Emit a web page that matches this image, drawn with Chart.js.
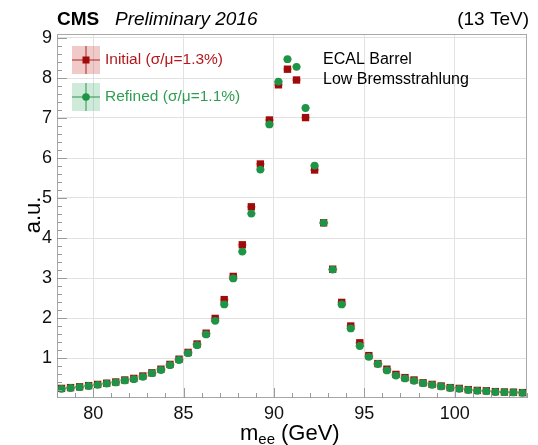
<!DOCTYPE html>
<html>
<head>
<meta charset="utf-8">
<script src="https://cdn.jsdelivr.net/npm/chart.js@4.4.0/dist/chart.umd.min.js"></script>
<style>
    html, body { margin: 0; padding: 0; background: #fff; }
    #wrap { width: 538px; height: 445px; }
</style>
</head>
<body>
<div id="wrap"><canvas id="zeeChart" width="538" height="445"></canvas></div>
<script>
// Di-electron invariant mass, ECAL barrel, low bremsstrahlung category
const massBins = [
    78.25, 78.75, 79.25, 79.75, 80.25, 80.75, 81.25, 81.75, 82.25, 82.75,
    83.25, 83.75, 84.25, 84.75, 85.25, 85.75, 86.25, 86.75, 87.25, 87.75,
    88.25, 88.75, 89.25, 89.75, 90.25, 90.75, 91.25, 91.75, 92.25, 92.75,
    93.25, 93.75, 94.25, 94.75, 95.25, 95.75, 96.25, 96.75, 97.25, 97.75,
    98.25, 98.75, 99.25, 99.75, 100.25, 100.75, 101.25, 101.75, 102.25, 102.75,
    103.25, 103.75
];
const binHalfWidth = 0.25;

const initialValues = [
    0.24, 0.26, 0.28, 0.31, 0.34, 0.37, 0.40, 0.45, 0.49, 0.55,
    0.63, 0.72, 0.84, 0.97, 1.14, 1.35, 1.62, 1.99, 2.46, 3.04,
    3.83, 4.78, 5.85, 6.95, 7.83, 8.22, 7.95, 7.01, 5.70, 4.38,
    3.22, 2.39, 1.80, 1.38, 1.06, 0.86, 0.72, 0.59, 0.51, 0.45,
    0.38, 0.34, 0.30, 0.26, 0.24, 0.21, 0.19, 0.18, 0.16, 0.15,
    0.145, 0.135
];
const refinedValues = [
    0.23, 0.25, 0.27, 0.30, 0.33, 0.36, 0.39, 0.44, 0.47, 0.53,
    0.62, 0.70, 0.82, 0.95, 1.12, 1.32, 1.59, 1.93, 2.34, 2.99,
    3.66, 4.61, 5.71, 6.84, 7.91, 8.47, 8.28, 7.25, 5.81, 4.38,
    3.21, 2.34, 1.74, 1.30, 1.03, 0.85, 0.69, 0.56, 0.49, 0.43,
    0.37, 0.33, 0.29, 0.25, 0.23, 0.20, 0.18, 0.17, 0.15, 0.145,
    0.14, 0.13
];

const xTickValues = [80, 85, 90, 95, 100];
const yTickValues = [1, 2, 3, 4, 5, 6, 7, 8, 9];

const RED = '#a00a0a';
const GREEN = '#1e9446';
const FONT = '"Liberation Sans", Arial, Helvetica, sans-serif';

const toPoints = vals => vals.map((v, i) => ({ x: massBins[i], y: v }));

// horizontal bin-width bars behind the markers
const xErrorBars = {
    id: 'xErrorBars',
    beforeDatasetsDraw(chart) {
        const { ctx, scales: { x, y } } = chart;
        ctx.save();
        chart.data.datasets.forEach(ds => {
            ctx.strokeStyle = ds.errColor;
            ctx.lineWidth = 2;
            ds.data.forEach(p => {
                const py = y.getPixelForValue(p.y);
                ctx.beginPath();
                ctx.moveTo(x.getPixelForValue(p.x - binHalfWidth), py);
                ctx.lineTo(x.getPixelForValue(p.x + binHalfWidth), py);
                ctx.stroke();
            });
        });
        ctx.restore();
    }
};

// frame, inward ticks, labels and legend in the ROOT style
const decorations = {
    id: 'decorations',
    afterDraw(chart) {
        const { ctx, chartArea: a, scales: { x, y } } = chart;
        ctx.save();

        // frame
        ctx.strokeStyle = '#a8a8a8';
        ctx.lineWidth = 1;
        ctx.strokeRect(a.left + 0.5, a.top + 0.5, a.right - a.left - 1, a.bottom - a.top - 1);

        // x ticks: every 1 GeV, long at labelled values
        ctx.strokeStyle = '#9a9a9a';
        for (let v = 78; v <= 104; v += 1) {
            const px = Math.round(x.getPixelForValue(v)) + 0.5;
            const len = xTickValues.includes(v) ? 10 : 5;
            ctx.beginPath();
            ctx.moveTo(px, a.bottom);
            ctx.lineTo(px, a.bottom - len);
            ctx.stroke();
        }
        // y ticks: every 0.2
        for (let k = 1; k <= 45; k++) {
            const v = k / 5;
            const py = Math.round(y.getPixelForValue(v)) + 0.5;
            const len = k % 5 === 0 ? 10 : 5;
            ctx.beginPath();
            ctx.moveTo(a.left, py);
            ctx.lineTo(a.left + len, py);
            ctx.stroke();
        }

        // header
        ctx.fillStyle = '#000';
        ctx.textBaseline = 'alphabetic';
        ctx.textAlign = 'left';
        ctx.font = 'bold 19px ' + FONT;
        ctx.fillText('CMS', 57, 25);
        ctx.font = 'italic 19px ' + FONT;
        ctx.fillText('Preliminary 2016', 115, 25);
        ctx.font = '19px ' + FONT;
        ctx.textAlign = 'right';
        ctx.fillText('(13 TeV)', 529, 25);

        // axis titles
        ctx.font = '22px ' + FONT;
        ctx.textAlign = 'left';
        const base = 440;
        let cx = 240;
        ctx.fillText('m', cx, base);
        cx += ctx.measureText('m').width;
        ctx.font = '15px ' + FONT;
        ctx.fillText('ee', cx, base + 4);
        cx += ctx.measureText('ee').width + 6;
        ctx.font = '22px ' + FONT;
        ctx.fillText('(GeV)', cx, base);

        ctx.save();
        ctx.translate(40, 215);
        ctx.rotate(-Math.PI / 2);
        ctx.textAlign = 'center';
        ctx.fillText('a.u.', 0, 0);
        ctx.restore();

        // category text
        ctx.font = '16px ' + FONT;
        ctx.textAlign = 'left';
        ctx.fillText('ECAL Barrel', 323, 64);
        ctx.fillText('Low Bremsstrahlung', 323, 84);

        // legend
        const entries = [
            { label: 'Initial (\u03c3/\u03bc=1.3%)', color: RED, text: '#b3181c', fill: 'rgba(200,60,60,0.28)', line: 'rgba(170,20,20,0.6)', style: 'rect', cy: 60 },
            { label: 'Refined (\u03c3/\u03bc=1.1%)', color: GREEN, text: '#2f9e52', fill: 'rgba(60,170,100,0.25)', line: 'rgba(30,140,70,0.6)', style: 'circle', cy: 97 }
        ];
        entries.forEach(e => {
            const mx = 86;
            ctx.fillStyle = e.fill;
            ctx.fillRect(mx - 14, e.cy - 14, 28, 28);
            ctx.strokeStyle = e.line;
            ctx.lineWidth = 1.5;
            ctx.beginPath();
            ctx.moveTo(mx - 14, e.cy); ctx.lineTo(mx + 14, e.cy);
            ctx.moveTo(mx, e.cy - 14); ctx.lineTo(mx, e.cy + 14);
            ctx.stroke();
            ctx.fillStyle = e.color;
            if (e.style === 'rect') {
                ctx.fillRect(mx - 3.5, e.cy - 3.5, 7, 7);
            } else {
                ctx.beginPath();
                ctx.arc(mx, e.cy, 3.8, 0, Math.PI * 2);
                ctx.fill();
            }
            ctx.fillStyle = e.text;
            ctx.font = '15.5px ' + FONT;
            ctx.textBaseline = 'middle';
            ctx.fillText(e.label, 105, e.cy);
            ctx.textBaseline = 'alphabetic';
        });

        ctx.restore();
    }
};

new Chart(document.getElementById('zeeChart'), {
    type: 'scatter',
    data: {
        datasets: [
            {
                label: 'Refined',
                data: toPoints(refinedValues),
                backgroundColor: GREEN,
                borderColor: GREEN,
                pointStyle: 'circle',
                pointRadius: 3.9,
                borderWidth: 0,
                errColor: 'rgba(40,150,80,0.35)',
                order: 0
            },
            {
                label: 'Initial',
                data: toPoints(initialValues),
                backgroundColor: RED,
                borderColor: RED,
                pointStyle: 'rect',
                pointRadius: 5.2,
                borderWidth: 0,
                errColor: 'rgba(200,40,40,0.35)',
                order: 1
            }
        ]
    },
    options: {
        responsive: false,
        animation: false,
        devicePixelRatio: 1,
        layout: { padding: { top: 34, right: 11, left: 0, bottom: 0 } },
        plugins: {
            legend: { display: false },
            tooltip: { enabled: false }
        },
        scales: {
            x: {
                type: 'linear',
                min: 78,
                max: 104,
                afterBuildTicks: s => { s.ticks = xTickValues.map(v => ({ value: v })); },
                afterFit: s => { s.height = 47; },
                grid: { color: '#e2e2e2', lineWidth: 1, drawTicks: false },
                border: { display: false },
                ticks: {
                    padding: 5,
                    maxRotation: 0,
                    color: '#111',
                    font: { family: FONT, size: 18 }
                }
            },
            y: {
                min: 0,
                max: 9.1,
                afterBuildTicks: s => { s.ticks = yTickValues.map(v => ({ value: v })); },
                afterFit: s => { s.width = 57; },
                grid: { color: '#e2e2e2', lineWidth: 1, drawTicks: false },
                border: { display: false },
                ticks: {
                    padding: 5,
                    color: '#111',
                    font: { family: FONT, size: 18 }
                }
            }
        }
    },
    plugins: [xErrorBars, decorations]
});
</script>
</body>
</html>
